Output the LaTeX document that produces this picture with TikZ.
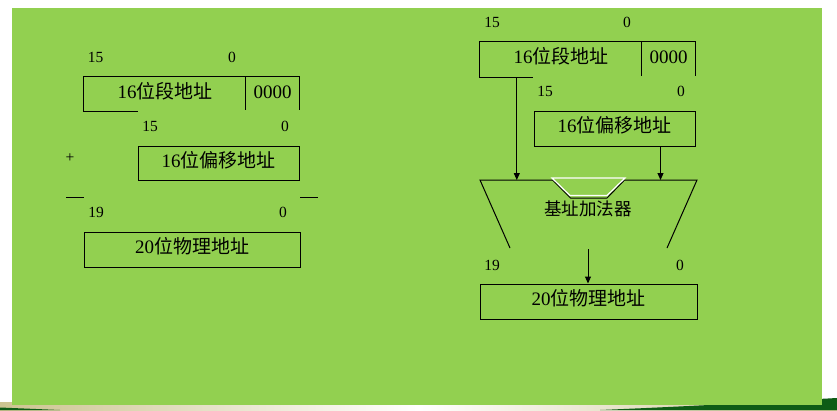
\documentclass[tikz,border=0pt]{standalone}
\usepackage{fontspec}
\setmainfont{Liberation Serif}
\newfontfamily\cjk{Noto Sans CJK SC}
\usetikzlibrary{arrows.meta}
\definecolor{bggreen}{RGB}{146,208,80}
\definecolor{dkgreen}{RGB}{14,92,22}
\definecolor{beige}{RGB}{204,196,144}
\tikzset{
  boxtext/.style={inner sep=0pt, font=\fontsize{19}{22}\selectfont, text height=14pt, text depth=5.6pt},
  drawbox/.style={boxtext, draw, line width=1pt},
  bitlbl/.style={inner sep=0pt, font=\fontsize{15.5}{18}\selectfont},
  line/.style={line width=1pt},
  arr/.style={line width=1pt, -{Triangle[length=7pt,width=6pt]}},
}
\begin{document}
\begin{tikzpicture}[x=1pt,y=-1pt]
\useasboundingbox (0,0) rectangle (837,410);
% background
\fill[white] (0,0) rectangle (837,410);
\shade[left color=beige, right color=beige, middle color=white] (0,402) rectangle (837,410);
\fill[dkgreen] (600,410) .. controls (720,405) and (780,401) .. (837,398) -- (837,410) -- cycle;
\fill[dkgreen] (0,407.5) -- (60,410) -- (0,410) -- cycle;
\fill[bggreen] (12,8) rectangle (822,404.7);

% ---------- left diagram ----------
\node[bitlbl] (l15a) at (95.5,57) {15};
\node[bitlbl] (l0a) at (232,57) {0};
\node[boxtext, minimum width=162pt, minimum height=34pt] (segA) at (165,94) {16{\cjk 位段地址}};
\node[boxtext, minimum width=53pt, minimum height=34pt] (segB) at (272.5,94) {0000};
\draw[line] ([xshift=54pt]segA.south west) -- (segA.south west) -- (segA.north west) -- (segB.north east) -- ([yshift=1pt]segB.south east);
\draw[line] (segB.north west) -- ([yshift=1pt]segB.south west);

\node[bitlbl] (l15b) at (150,126) {15};
\node[bitlbl] (l0b) at (285,126) {0};
\node[bitlbl] (plus) at (70,158) {+};
\node[drawbox, minimum width=161pt, minimum height=34pt] (off) at (218.5,163) {16{\cjk 位偏移地址}};
\coordinate (d1a) at (66,197);
\coordinate (d1b) at (84,197);
\coordinate (d2a) at (300,197);
\coordinate (d2b) at (318,197);
\draw[line] (d1a) -- (d1b);
\draw[line] (d2a) -- (d2b);
\node[bitlbl] (l19a) at (96,212) {19};
\node[bitlbl] (l0c) at (283,212) {0};
\node[drawbox, minimum width=216pt, minimum height=35pt] (phys) at (192,249.5) {20{\cjk 位物理地址}};

% ---------- right diagram ----------
\node[bitlbl] (r15a) at (492,22) {15};
\node[bitlbl] (r0a) at (627,22) {0};
\node[boxtext, minimum width=162pt, minimum height=35pt] (segA2) at (561,59.5) {16{\cjk 位段地址}};
\node[boxtext, minimum width=53pt, minimum height=35pt] (segB2) at (668.5,59.5) {0000};
\draw[line] ([xshift=53pt]segA2.south west) -- (segA2.south west) -- (segA2.north west) -- (segB2.north east) -- ([yshift=1pt]segB2.south east);
\draw[line] (segB2.north west) -- ([yshift=1pt]segB2.south west);

\node[bitlbl] (r15b) at (545,91) {15};
\node[bitlbl] (r0b) at (681,91) {0};
\node[drawbox, minimum width=161pt, minimum height=35pt] (off2) at (614.5,128.5) {16{\cjk 位偏移地址}};

% adder
\coordinate (tl) at (480,180);
\coordinate (tr) at (697,180);
\coordinate (bl) at (510,248);
\coordinate (br) at (667,248);
\draw[line] (bl) -- (tl) -- (552.5,180) -- (570.5,198) -- (607,198) -- (624.5,180) -- (tr) -- (br);
\draw[white, line width=1.2pt] (552,178) -- (570,195.5) -- (607,195.5) -- (625,178) -- cycle;
\node[inner sep=0pt, font=\fontsize{17.5}{20}\selectfont\cjk] (addl) at (588,209) {基址加法器};
\coordinate (addout) at (588,249);

\draw[arr] ([xshift=37pt]segA2.south west) -- ([xshift=37pt]segA2.south west |- tl);
\draw[arr] ([xshift=-35pt]off2.south east) -- ([xshift=-35pt]off2.south east |- tr);

\node[bitlbl] (r19) at (492,265) {19};
\node[bitlbl] (r0c) at (680,265) {0};
\node[drawbox, minimum width=217pt, minimum height=35pt] (phys2) at (588.5,301.5) {20{\cjk 位物理地址}};
\draw[arr] (addout) -- (addout |- phys2.north);
\end{tikzpicture}
\end{document}
